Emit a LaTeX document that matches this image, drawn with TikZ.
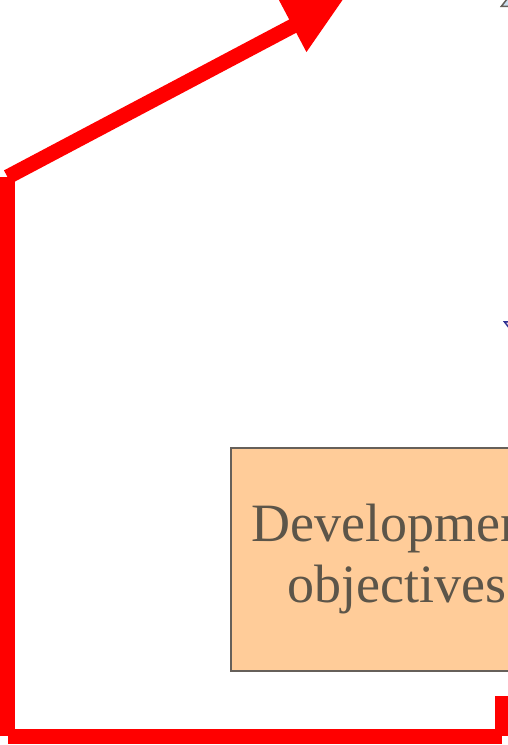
\documentclass[tikz,border=0pt]{standalone}
\usepackage{fontspec}
\setmainfont{Liberation Serif}
\usepackage{tikz}
\usetikzlibrary{arrows.meta}
\definecolor{boxfill}{HTML}{FFCC99}
\definecolor{boxline}{HTML}{66605A}
\definecolor{boxtext}{HTML}{5C5549}
\definecolor{navy}{HTML}{2E3192}
\definecolor{paleblue}{HTML}{CCE0F0}
\tikzset{
redline/.style={draw=red,line width=15pt,line cap=butt},
goalbox/.style={draw=boxline,fill=boxfill,line width=2pt,text=boxtext,align=center,
  minimum width=332pt,minimum height=223pt,font=\fontsize{54}{61}\selectfont}
}
\begin{document}
\begin{tikzpicture}[x=1pt,y=-1pt]
\useasboundingbox (0,0) rectangle (508,745);
\clip (0,0) rectangle (508,745);
\node[goalbox] (obj) at (397,559.5){Development\\objectives};
\coordinate (loopin) at (502,696);
\coordinate (c1) at (502,736);
\coordinate (c2) at (7.5,736);
\coordinate (c3) at (7.5,177);
\coordinate (tip) at (344,-1);
\foreach \from/\to in {loopin/c1,c1/c2,c2/c3}
	\draw[redline] (\from)--(\to);
\draw[redline,-{Triangle[length=58pt,width=54pt]}] (c3)--(tip);
\coordinate (ga) at (514,200);
\coordinate (gb) at (514,-11);
\draw[boxline,line width=1.5pt,-{Triangle[open,fill=paleblue,length=18pt,width=28pt]}] (ga)--(gb);
\coordinate (ba) at (513,150);
\coordinate (bb) at (513,334);
\draw[navy,line width=1.5pt,-{Triangle[open,fill=red!10,length=13pt,width=20pt]}] (ba)--(bb);
\end{tikzpicture}
\end{document}
